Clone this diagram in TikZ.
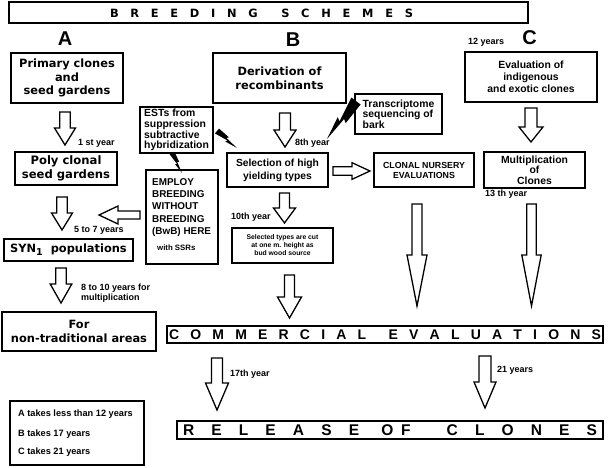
\documentclass[tikz,border=0pt]{standalone}
\usepackage{fontspec}
\setmainfont{Liberation Sans}
\newfontfamily\vfont{DejaVu Sans}
\newcommand\fsz[2]{\fontsize{#1}{#2}\selectfont}
% block arrows: down  {cx}{top}{headstart}{tip}{shaft half}{head half}
\newcommand\dnarr[6]{\draw[blk] (#1-#5,#2) -- (#1+#5,#2) -- (#1+#5,#3) -- (#1+#6,#3) -- (#1,#4) -- (#1-#6,#3) -- (#1-#5,#3) -- cycle;}
% horizontal {tail x}{head x}{tip x}{cy}{shaft half}{head half}
\newcommand\hzarr[6]{\draw[blk] (#1,#4-#5) -- (#2,#4-#5) -- (#2,#4-#6) -- (#3,#4) -- (#2,#4+#6) -- (#2,#4+#5) -- (#1,#4+#5) -- cycle;}
% lightning bolt {x}{y}{angle}{length}
\newcommand\bolt[4]{\fill[black,shift={(#1,#2)},rotate=#3] (0,0.12*#4) -- (0.55*#4,0.015*#4) -- (0.5*#4,0.1*#4) -- (#4,0) -- (0.45*#4,-0.03*#4) -- (0.5*#4,-0.11*#4) -- (0,-0.12*#4) -- cycle;}
\begin{document}
\begin{tikzpicture}[x=1pt,y=-1pt,
  box/.style={draw, line width=1.6pt, inner sep=0pt, align=center},
  blk/.style={draw, line width=1.3pt, fill=white, line join=miter},
  lab/.style={font=\bfseries\fsz{9}{10}, inner sep=0pt, anchor=west},
  vbig/.style={font=\vfont\bfseries\fsz{11.4}{13.5}},
  abig/.style={font=\bfseries\fsz{20}{20}, inner sep=0pt}]
\useasboundingbox (0,0) rectangle (609,467);
\fill[white] (0,0) rectangle (609,467);

% title
\node[box, line width=2pt, minimum width=519pt, minimum height=21pt] (title) at (268.5,12.5) {};
\node[font=\vfont\bfseries\fsz{11.4}{12}, inner sep=0pt] (titletxt) at (261.5,13)
 {\makebox[303pt][s]{B\hfill R\hfill E\hfill E\hfill D\hfill I\hfill N\hfill G\hspace{0pt plus 2fill}S\hfill C\hfill H\hfill E\hfill M\hfill E\hfill S}};

% column letters
\node[abig] (la) at (65,39) {A};
\node[abig] (lb) at (293,40) {B};
\node[abig] (lc) at (529.5,38) {C};
\node[lab] (y12) at (468,42) {12 years};

% top boxes
\node[box, vbig, minimum width=112pt, minimum height=50pt] (prim) at (67,78) {Primary clones\\and\\seed gardens};
\node[box, font=\vfont\bfseries\fsz{11.4}{14}, minimum width=133pt, minimum height=50pt] (deriv) at (279.5,78) {Derivation of\\recombinants};
\node[box, font=\bfseries\fsz{10.4}{12}, minimum width=132pt, minimum height=50pt] (evalc) at (531,77) {Evaluation of\\indigenous\\and exotic clones};

% side boxes
\node[box, align=left, font=\bfseries\fsz{10.4}{10.7}, minimum width=73pt, minimum height=46pt] (ests) at (176.5,130) {ESTs from\\suppression\\subtractive\\hybridization};
\node[box, align=left, font=\bfseries\fsz{10.4}{10.5}, minimum width=87pt, minimum height=40pt] (trans) at (398.5,114) {Transcriptome\\sequencing of\\bark};

% middle row
\node[box, font=\vfont\bfseries\fsz{11.6}{14}, minimum width=102pt, minimum height=33pt] (poly) at (66,168.5) {Poly clonal\\seed gardens};
\node[box, font=\bfseries\fsz{10.3}{13}, minimum width=101pt, minimum height=34pt] (sel) at (277.5,170) {Selection of high\\yielding types};
\node[box, font=\bfseries\fsz{8.8}{10}, minimum width=100pt, minimum height=34pt] (clonal) at (424,170) {CLONAL NURSERY\\EVALUATIONS};
\node[box, font=\bfseries\fsz{10.4}{10.5}, minimum width=101pt, minimum height=36pt] (mult) at (534.5,170) {Multiplication\\of\\Clones};

% employ box
\node[box, minimum width=72pt, minimum height=94pt] (employ) at (182,217) {};
\node[align=left, anchor=west, font=\bfseries\fsz{9.9}{12.25}, inner sep=0pt] (emptxt) at (152,207.5) {EMPLOY\\BREEDING\\WITHOUT\\BREEDING\\(BwB) HERE};
\node[anchor=west, font=\bfseries\fsz{7.8}{9}, inner sep=0pt] (ssr) at (157,248) {with SSRs};

% lower boxes
\node[box, font=\bfseries\fsz{6.8}{8}, minimum width=101pt, minimum height=35pt] (seltyp) at (282.5,245.5) {Selected types are cut\\at one m. height as\\bud wood source};
\node[box, font=\vfont\bfseries\fsz{11.4}{13}, minimum width=129pt, minimum height=22pt] (syn) at (68.5,250) {SYN\raisebox{-3pt}{\fsz{9.5}{9.5}1}\ \ populations};
\node[box, font=\vfont\bfseries\fsz{11.4}{14}, minimum width=154pt, minimum height=39pt] (fornt) at (79,331.5) {For\\non-traditional areas};

\node[box, line width=1.4pt, font=\bfseries\fsz{14}{14}, minimum width=436pt, minimum height=17pt] (comm) at (385,334.5)
 {\makebox[432pt][s]{C\hfill O\hfill M\hfill M\hfill E\hfill R\hfill C\hfill I\hfill A\hfill L\hspace{0pt plus 2fill}E\hfill V\hfill A\hfill L\hfill U\hfill A\hfill T\hfill I\hfill O\hfill N\hfill S}};
\node[box, line width=1.4pt, font=\bfseries\fsz{15.5}{15.5}, minimum width=426pt, minimum height=18pt] (rel) at (390,430)
 {\makebox[414pt][s]{R\hfill E\hfill L\hfill E\hfill A\hfill S\hfill E\hspace{0pt plus 1.3fill}O\hspace{0pt plus 0.45fill}F\hspace{0pt plus 2.1fill}C\hfill L\hfill O\hfill N\hfill E\hfill S}};

% legend
\node[box, line width=1.8pt, minimum width=134pt, minimum height=64pt] (legend) at (77,433) {};
\node[anchor=west, font=\bfseries\fsz{9.2}{10}, inner sep=0pt] (lga) at (18,414) {A takes less than 12 years};
\node[anchor=west, font=\bfseries\fsz{9.2}{10}, inner sep=0pt] (lgb) at (18,434) {B takes 17 years};
\node[anchor=west, font=\bfseries\fsz{9.2}{10}, inner sep=0pt] (lgc) at (18,452) {C takes 21 years};

% labels
\node[lab] (l1) at (78,143) {1 st year};
\node[lab] (l8) at (295,143) {8th year};
\node[lab] (l57) at (74,230) {5 to 7 years};
\node[lab] (l10) at (231,217) {10th year};
\node[lab] (l13) at (485,194) {13 th year};
\node[lab, align=left, font=\bfseries\fsz{9}{10}] (l810) at (81,293) {8 to 10 years for\\multiplication};
\node[lab] (l17) at (230,374) {17th year};
\node[lab] (l21) at (497,370) {21 years};

% block arrows
\dnarr{65}{112}{128}{145}{5.3}{10.5}
\dnarr{62}{197}{213}{230}{5.3}{10.5}
\dnarr{61}{268}{284}{303}{5.3}{10.8}
\dnarr{285}{113}{130}{147}{5.5}{11}
\dnarr{284.5}{193}{208}{223}{5}{11}
\dnarr{289.5}{275}{297}{318}{5}{12}
\dnarr{531}{108}{127}{142}{6}{12}
\dnarr{417}{204}{255}{306}{5}{10}
\dnarr{531.5}{204}{255}{306}{4.7}{9.7}
\dnarr{217}{358}{383}{410}{5.5}{11.5}
\dnarr{485}{356}{382}{408}{6}{11}
\hzarr{333}{352}{370}{171}{4.2}{8.3}
\hzarr{140}{118}{99}{215}{4}{9}

% lightning bolts
\bolt{356}{101}{-127.35}{47.8}
\bolt{217}{131}{-40.4}{26.2}
\bolt{172}{153}{-63.4}{22.4}
\end{tikzpicture}
\end{document}
